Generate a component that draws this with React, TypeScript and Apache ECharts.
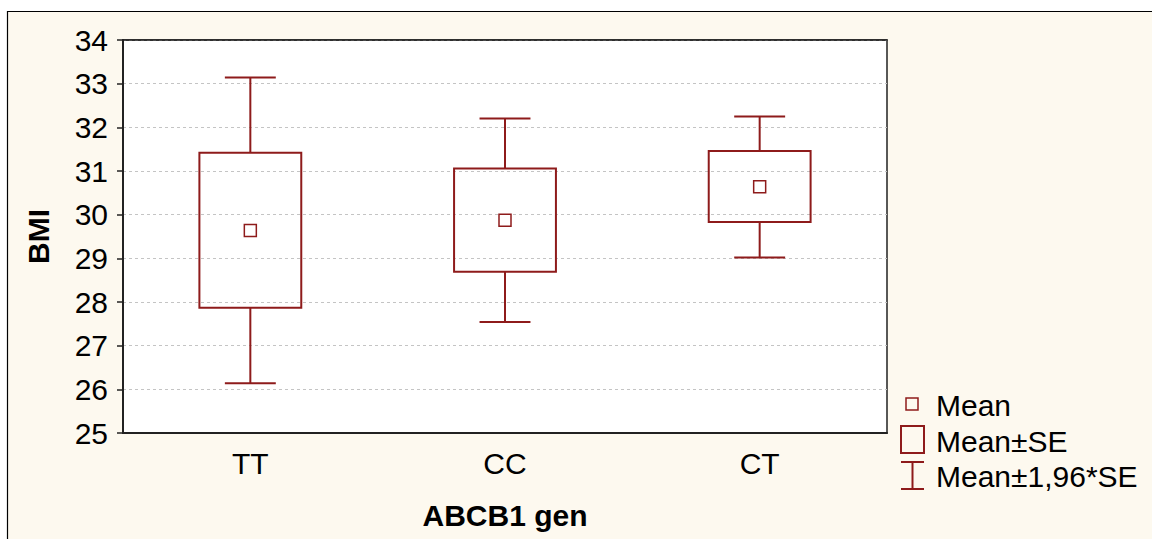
import React, { useEffect, useRef } from "react";
import * as echarts from "echarts";

const categories = ["TT", "CC", "CT"];
const means = [29.64, 29.87, 30.64];
const seLow = [27.87, 28.69, 29.83];
const seHigh = [31.42, 31.06, 31.46];
const ciLow = [26.14, 27.54, 29.02];
const ciHigh = [33.14, 32.2, 32.25];
const yTicks = { min: 25, max: 34, interval: 1 };
const legendLabels = ["Mean", "Mean±SE", "Mean±1,96*SE"];

const RED = "#8E1B1B";
const FONT = "Arial, 'Liberation Sans', sans-serif";
const FS = 30;

export default function App() {
  const ref = useRef<HTMLDivElement>(null);
  useEffect(() => {
    document.body.style.margin = "0";
    const chart = echarts.init(ref.current!, null, { renderer: "svg" });
    const idx = categories.map((_, i) => i);
    const option: any = {
      animation: false,
      backgroundColor: "#ffffff",
      textStyle: { fontFamily: FONT },
      grid: {
        left: 123,
        right: 265,
        top: 40,
        bottom: 106,
        show: true,
        backgroundColor: "#ffffff",
        borderColor: "#222",
        borderWidth: 1.5,
        z: 1,
      },
      xAxis: [
        {
          type: "category",
          data: categories,
          position: "bottom",
          z: 2,
          name: "ABCB1 gen",
          nameLocation: "middle",
          nameGap: 67,
          nameTextStyle: { fontSize: FS, fontWeight: "bold", color: "#000", fontFamily: FONT },
          axisLine: { lineStyle: { color: "#222", width: 2 } },
          axisTick: { inside: true, alignWithLabel: true, length: 7, lineStyle: { color: "#222", width: 1.5 } },
          axisLabel: { fontSize: FS, color: "#000", margin: 15, fontFamily: FONT },
          splitLine: { show: false },
        },
        {
          type: "category",
          data: categories,
          position: "top",
          z: 2,
          axisLine: { lineStyle: { color: "#222", width: 1.5 } },
          axisTick: { inside: true, alignWithLabel: true, length: 7, lineStyle: { color: "#222", width: 1.5 } },
          axisLabel: { show: false },
          splitLine: { show: false },
        },
      ],
      yAxis: {
        type: "value",
        min: yTicks.min,
        max: yTicks.max,
        interval: yTicks.interval,
        z: 2,
        name: "BMI",
        nameLocation: "middle",
        nameGap: 70,
        nameTextStyle: { fontSize: FS, fontWeight: "bold", color: "#000", fontFamily: FONT },
        axisLine: { show: true, lineStyle: { color: "#222", width: 2 } },
        axisTick: { show: true, inside: false, length: 6, lineStyle: { color: "#222", width: 1.5 } },
        axisLabel: { fontSize: FS, color: "#000", margin: 15, fontFamily: FONT },
        splitLine: { show: true, lineStyle: { color: "#c4c4c4", type: [3, 3], width: 1 } },
      },
      graphic: [
        {
          type: "rect",
          z: -10,
          shape: { x: 7.5, y: 11.5, width: 1300, height: 700 },
          style: { fill: "#FDF9EF", stroke: "#000", lineWidth: 1.2 },
        },
        {
          type: "group",
          x: 900,
          y: 396,
          children: [
            { type: "rect", shape: { x: 6, y: 2, width: 12, height: 12 }, style: { fill: "none", stroke: RED, lineWidth: 1.5 } },
            { type: "text", x: 36, y: 9, style: { text: legendLabels[0], fontSize: FS, fontFamily: FONT, fill: "#000", verticalAlign: "middle" } },
            { type: "rect", shape: { x: 1, y: 30, width: 23, height: 27 }, style: { fill: "none", stroke: RED, lineWidth: 2 } },
            { type: "text", x: 36, y: 45, style: { text: legendLabels[1], fontSize: FS, fontFamily: FONT, fill: "#000", verticalAlign: "middle" } },
            { type: "line", shape: { x1: 1, y1: 66, x2: 24, y2: 66 }, style: { stroke: RED, lineWidth: 2 } },
            { type: "line", shape: { x1: 12.5, y1: 66, x2: 12.5, y2: 93 }, style: { stroke: RED, lineWidth: 2 } },
            { type: "line", shape: { x1: 1, y1: 93, x2: 24, y2: 93 }, style: { stroke: RED, lineWidth: 2 } },
            { type: "text", x: 36, y: 80, style: { text: legendLabels[2], fontSize: FS, fontFamily: FONT, fill: "#000", verticalAlign: "middle" } },
          ],
        },
      ],
      series: [
        {
          name: legendLabels[2],
          type: "custom",
          z: 3,
          data: idx.map((i) => [i, ciLow[i], ciHigh[i], seLow[i], seHigh[i]]),
          encode: { x: 0, y: [1, 2] },
          renderItem: (params: any, api: any) => {
            const i = api.value(0);
            const bw = api.size([1, 0])[0];
            const cap = bw * 0.1;
            const top = api.coord([i, api.value(2)]);
            const bot = api.coord([i, api.value(1)]);
            const boxTop = api.coord([i, api.value(4)]);
            const boxBot = api.coord([i, api.value(3)]);
            const st = { stroke: RED, lineWidth: 2 };
            return {
              type: "group",
              children: [
                { type: "line", shape: { x1: top[0] - cap, y1: top[1], x2: top[0] + cap, y2: top[1] }, style: st },
                { type: "line", shape: { x1: top[0], y1: top[1], x2: boxTop[0], y2: boxTop[1] }, style: st },
                { type: "line", shape: { x1: bot[0] - cap, y1: bot[1], x2: bot[0] + cap, y2: bot[1] }, style: st },
                { type: "line", shape: { x1: bot[0], y1: bot[1], x2: boxBot[0], y2: boxBot[1] }, style: st },
              ],
            };
          },
        },
        {
          name: legendLabels[1],
          type: "custom",
          z: 4,
          data: idx.map((i) => [i, seLow[i], seHigh[i]]),
          encode: { x: 0, y: [1, 2] },
          renderItem: (params: any, api: any) => {
            const i = api.value(0);
            const bw = api.size([1, 0])[0];
            const half = bw * 0.2;
            const top = api.coord([i, api.value(2)]);
            const bot = api.coord([i, api.value(1)]);
            return {
              type: "rect",
              shape: { x: top[0] - half, y: top[1], width: half * 2, height: bot[1] - top[1] },
              style: { fill: "none", stroke: RED, lineWidth: 2 },
            };
          },
        },
        {
          name: legendLabels[0],
          type: "custom",
          z: 5,
          data: idx.map((i) => [i, means[i]]),
          encode: { x: 0, y: 1 },
          renderItem: (params: any, api: any) => {
            const p = api.coord([api.value(0), api.value(1)]);
            const s = 12;
            return {
              type: "rect",
              shape: { x: p[0] - s / 2, y: p[1] - s / 2, width: s, height: s },
              style: { fill: "none", stroke: RED, lineWidth: 1.5 },
            };
          },
        },
      ],
    };
    chart.setOption(option);
    return () => chart.dispose();
  }, []);
  return <div ref={ref} style={{ width: 1152, height: 539 }} />;
}
